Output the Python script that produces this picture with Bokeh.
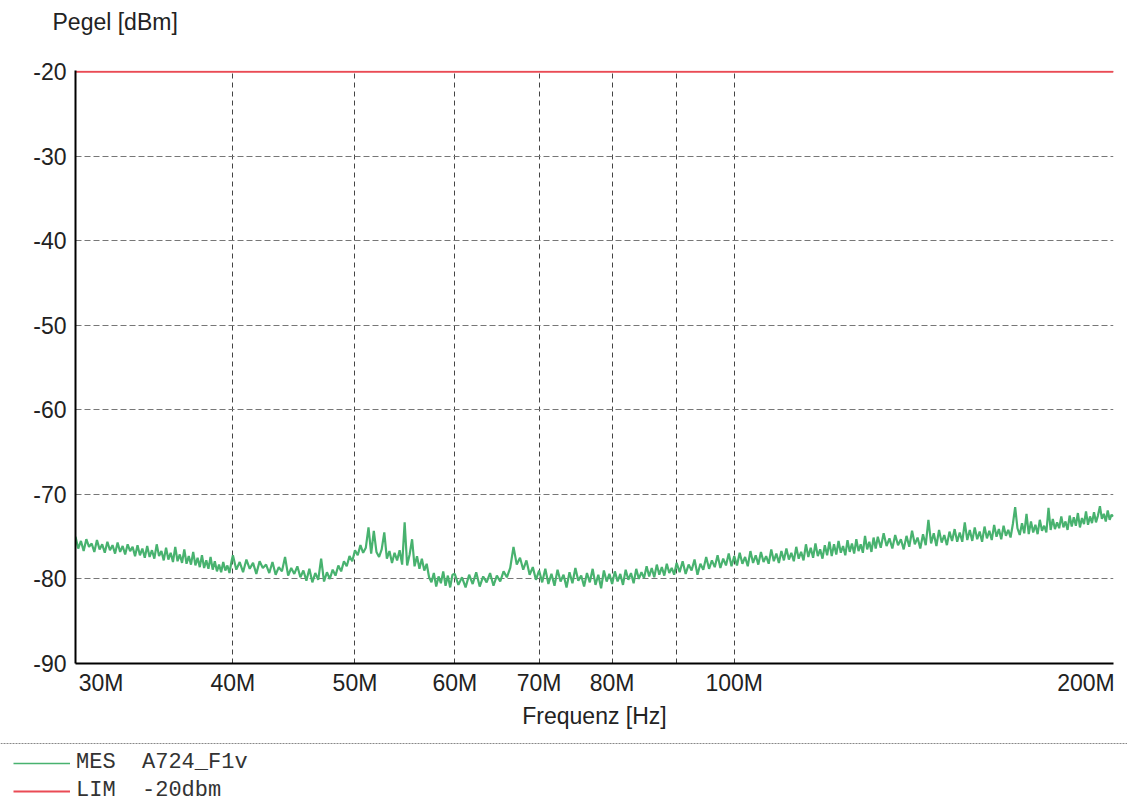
from bokeh.plotting import figure
from bokeh.models import Range1d, FixedTicker, Legend, LegendItem, Span, Title
from bokeh.layouts import column
from bokeh.embed import file_html
from bokeh.resources import INLINE

NB = "\u00a0"
FONT = "Liberation Sans"
GREEN = "#48b26f"
RED = "#ea4b55"

# ---- data -------------------------------------------------------------
x_ticks_mhz = [30, 40, 50, 60, 70, 80, 90, 100, 200]
x_tick_labels = [NB * 8 + "30M", "40M", "50M", "60M", "70M", "80M", "", "100M", "200M" + NB * 2]
y_ticks = [-90, -80, -70, -60, -50, -40, -30, -20]
y_tick_labels = ["-90", "-80", "-70", "-60", "-50", "-40", "-30", "-20"]

lim_freq_mhz = [30, 200]
lim_level = [-20, -20]

mes_freq_mhz = [
    30.0, 30.15, 30.3, 30.45, 30.6, 30.75, 30.9, 31.05, 31.2, 31.35,
    31.5, 31.65, 31.8, 31.95, 32.1, 32.25, 32.4, 32.55, 32.7, 32.85,
    33.0, 33.15, 33.3, 33.45, 33.6, 33.75, 33.9, 34.05, 34.2, 34.35,
    34.5, 34.65, 34.8, 34.95, 35.1, 35.25, 35.4, 35.55, 35.7, 35.85,
    36.0, 36.15, 36.3, 36.45, 36.6, 36.75, 36.9, 37.05, 37.2, 37.35,
    37.5, 37.65, 37.8, 37.95, 38.1, 38.25, 38.4, 38.55, 38.7, 38.85,
    39.0, 39.15, 39.3, 39.45, 39.6, 39.75, 39.9,
    40.0, 40.25, 40.5, 40.75, 41.0, 41.25, 41.5, 41.75, 42.0, 42.25,
    42.5, 42.75, 43.0, 43.25, 43.5, 43.75, 44.0, 44.25, 44.5, 44.75,
    45.0, 45.25, 45.5, 45.75, 46.0, 46.25, 46.5, 46.75, 47.0, 47.25,
    47.5, 47.75, 48.0, 48.25, 48.5, 48.75, 49.0, 49.25, 49.5, 49.75,
    50.0, 50.25, 50.5, 50.75, 51.0, 51.25, 51.5, 51.75, 52.0, 52.25,
    52.5, 52.75, 53.0, 53.25, 53.5, 53.75, 54.0, 54.25, 54.5, 54.75,
    55.0, 55.25, 55.5, 55.75, 56.0, 56.25, 56.5, 56.75, 57.0, 57.25,
    57.5, 57.75, 58.0, 58.25, 58.5, 58.75, 59.0, 59.25, 59.5, 59.75,
    60.0, 60.4, 60.8, 61.2, 61.6, 62.0, 62.4, 62.8, 63.2, 63.6,
    64.0, 64.4, 64.8, 65.2, 65.6, 66.0, 66.4, 66.8, 67.2, 67.6,
    68.0, 68.4, 68.8, 69.2, 69.6, 70.0, 70.4, 70.8, 71.2, 71.6,
    72.0, 72.4, 72.8, 73.2, 73.6, 74.0, 74.4, 74.8, 75.2, 75.6,
    76.0, 76.4, 76.8, 77.2, 77.6, 78.0, 78.4, 78.8, 79.2, 79.6,
    80.0, 80.4, 80.8, 81.2, 81.6, 82.0, 82.4, 82.8, 83.2, 83.6,
    84.0, 84.4, 84.8, 85.2, 85.6, 86.0, 86.4, 86.8, 87.2, 87.6,
    88.0, 88.4, 88.8, 89.2, 89.6,
    90.0, 90.5, 91.0, 91.5, 92.0, 92.5, 93.0, 93.5, 94.0, 94.5,
    95.0, 95.5, 96.0, 96.5, 97.0, 97.5, 98.0, 98.5, 99.0, 99.5,
    100.0, 100.5, 101.0, 101.5, 102.0, 102.5, 103.0, 103.5, 104.0, 104.5,
    105.0, 105.5, 106.0, 106.5, 107.0, 107.5, 108.0, 108.5, 109.0, 109.5,
    110.0, 110.5, 111.0, 111.5, 112.0, 112.5, 113.0, 113.5, 114.0, 114.5,
    115.0, 115.5, 116.0, 116.5, 117.0, 117.5, 118.0, 118.5, 119.0, 119.5,
    120.0, 120.5, 121.0, 121.5, 122.0, 122.5, 123.0, 123.5, 124.0, 124.5,
    125.0, 125.5, 126.0, 126.5, 127.0, 127.5, 128.0, 128.5, 129.0, 129.5,
    130.0, 130.7, 131.4, 132.1, 132.8, 133.5, 134.2, 134.9, 135.6, 136.3,
    137.0, 137.7, 138.4, 139.1, 139.8, 140.5, 141.2, 141.9, 142.6, 143.3,
    144.0, 144.7, 145.4, 146.1, 146.8, 147.5, 148.2, 148.9, 149.6, 150.3,
    151.0, 151.7, 152.4, 153.1, 153.8, 154.5, 155.2, 155.9, 156.6, 157.3,
    158.0, 158.7, 159.4, 160.1, 160.8, 161.5, 162.2, 162.9, 163.6, 164.3,
    165.0, 165.7, 166.4, 167.1, 167.8, 168.5, 169.2, 169.9, 170.6, 171.3,
    172.0, 172.7, 173.4, 174.1, 174.8, 175.5, 176.2, 176.9, 177.6, 178.3,
    179.0, 179.7, 180.4, 181.1, 181.8, 182.5, 183.2, 183.9, 184.6, 185.3,
    186.0, 186.7, 187.4, 188.1, 188.8, 189.5, 190.2, 190.9, 191.6, 192.3,
    193.0, 193.7, 194.4, 195.1, 195.8, 196.5, 197.2, 197.9, 198.6, 199.3,
    200.0,
]

mes_level = [
    -75.0, -76.4, -75.5, -76.7, -75.3, -76.2, -75.8, -76.8, -75.4, -76.5,
    -75.9, -76.9, -75.6, -76.6, -76.0, -77.0, -75.7, -76.8, -76.1, -77.1,
    -75.9, -76.7, -76.2, -77.3, -76.0, -77.2, -76.4, -77.5, -76.1, -77.4,
    -76.6, -77.6, -75.9, -77.3, -76.7, -77.8, -76.3, -77.7, -76.9, -78.0,
    -76.2, -77.9, -77.1, -78.1, -76.5, -78.2, -77.3, -78.3, -76.8, -78.4,
    -77.5, -78.6, -77.2, -78.7, -77.8, -78.8, -77.4, -78.9, -77.9, -79.1,
    -78.3, -79.2, -78.0, -79.0, -78.4, -79.3, -77.9,
    -77.2, -78.9, -78.0, -79.2, -77.7, -78.8, -78.1, -79.4, -77.9, -78.7,
    -78.3, -79.3, -78.0, -79.5, -78.6, -79.1, -77.4, -79.6, -78.7, -79.4,
    -78.5, -79.8, -79.0, -80.2, -78.8, -80.4, -79.3, -80.1, -77.6, -80.3,
    -79.2, -80.0, -78.9, -79.6, -78.4, -79.1, -77.9, -78.5, -77.3, -77.9,
    -76.6, -77.2, -76.0, -76.9, -76.3, -73.9, -77.0, -74.3, -76.8, -77.4,
    -76.5, -74.5, -77.6, -76.7, -78.1, -76.9, -77.8, -76.6, -78.3, -73.3,
    -78.4, -77.1, -75.3, -78.5, -77.3, -78.8, -77.6, -79.0, -78.2, -79.8,
    -80.4, -79.3, -80.9, -79.7, -80.5, -79.1, -80.8, -79.6, -81.0, -79.5,
    -79.4, -80.7, -79.8, -81.0, -79.5, -80.6, -79.2, -80.9, -79.7, -80.4,
    -79.3, -80.8, -79.6, -80.3, -79.1, -79.8, -78.7, -76.2, -78.3, -77.5,
    -78.9, -77.8, -79.5, -78.6, -80.1, -79.0, -80.4, -78.8, -80.6, -79.4,
    -80.8, -78.9, -80.3, -79.5, -81.0, -79.2, -80.5, -78.7, -80.2, -79.6,
    -80.9, -79.3, -80.4, -78.8, -80.7, -79.5, -81.1, -79.0, -80.3, -79.4,
    -80.6, -79.1, -80.3, -79.4, -80.7, -78.9, -80.1, -79.3, -80.5, -78.8,
    -80.0, -79.2, -79.9, -78.5, -79.7, -78.7, -79.8, -78.3, -79.5, -78.6,
    -79.6, -78.2, -79.3, -78.7, -79.5,
    -78.1, -79.2, -77.9, -79.4, -78.3, -79.0, -77.7, -79.5, -78.2, -78.9,
    -77.4, -78.8, -77.8, -78.6, -77.2, -78.7, -77.6, -78.4, -77.0, -78.5,
    -77.3, -78.4, -76.9, -78.2, -77.4, -78.5, -76.7, -78.1, -77.2, -78.3,
    -76.8, -78.0, -77.3, -78.2, -76.5, -77.9, -77.0, -78.1, -76.7, -77.8,
    -76.4, -77.7, -76.9, -77.9, -76.2, -77.6, -76.8, -77.8, -75.9, -77.4,
    -76.3, -77.5, -75.8, -77.3, -76.5, -77.6, -76.0, -77.2, -75.6, -77.3,
    -75.9, -77.1, -75.5, -76.9, -76.1, -77.2, -75.4, -76.8, -75.8, -77.0,
    -75.3, -76.7, -75.9, -76.9, -74.9, -76.5, -75.6, -76.8, -75.1, -76.4,
    -75.0, -76.3, -74.6, -76.1, -75.2, -76.4, -74.8, -76.0, -75.3, -76.5,
    -74.9, -76.2, -74.3, -75.9, -75.1, -76.4, -74.7, -76.0, -73.0, -75.8,
    -74.6, -76.1, -74.2, -75.7, -74.8, -76.0, -74.4, -75.5, -74.1, -75.6,
    -74.5, -75.6, -73.3, -75.4, -74.2, -75.5, -73.9, -75.3, -74.4, -75.6,
    -73.8, -75.2, -74.3, -75.4, -73.6, -75.0, -74.1, -75.3, -73.7, -74.9,
    -74.2, -75.1, -73.5, -71.5, -74.0, -74.8, -73.4, -74.6, -72.3, -74.7,
    -73.2, -74.5, -73.6, -74.7, -73.0, -74.3, -73.7, -74.5, -71.6, -74.2,
    -72.9, -74.1, -73.3, -74.0, -72.6, -73.9, -73.2, -74.2, -72.5, -73.8,
    -72.7, -73.7, -72.2, -73.9, -72.8, -73.5, -72.0, -73.6, -72.6, -73.4,
    -72.1, -73.3, -72.5, -71.4, -72.9, -72.3, -73.2, -71.9, -73.0, -72.4,
    -72.6,
]

y_title = "Pegel [dBm]"
legend_labels = ["MES" + NB * 2 + "A724_F1v", "LIM" + NB * 2 + "-20dbm"]

# ---- main chart -------------------------------------------------------
mes_freq_hz = [f * 1e6 for f in mes_freq_mhz]
lim_freq_hz = [f * 1e6 for f in lim_freq_mhz]
x_ticks_hz = [int(f * 1e6) for f in x_ticks_mhz]

p = figure(
    width=1127, height=742,
    x_axis_type="log",
    x_range=Range1d(30e6, 200e6), y_range=Range1d(-90, -19.85),
    output_backend="svg", toolbar_location=None,
    min_border_left=75, min_border_right=14, min_border_top=70, min_border_bottom=79,
    background_fill_color="white", border_fill_color="white",
    outline_line_color=None,
)
# spacer between frame and the title text (title goes outermost)
p.add_layout(Title(text=NB, text_font_size="1px", standoff=33), "above")
p.add_layout(Title(
    text=y_title, text_font=FONT, text_font_size="23px", text_font_style="normal",
    text_color="#222222", align="left", offset=-23, standoff=0,
), "above")

xa = p.xaxis[0]
xa.ticker = FixedTicker(ticks=x_ticks_hz)
xa.major_label_overrides = {t: lab for t, lab in zip(x_ticks_hz, x_tick_labels)}
ya = p.yaxis[0]
ya.ticker = FixedTicker(ticks=y_ticks)
ya.major_label_overrides = {t: lab for t, lab in zip(y_ticks, y_tick_labels)}

for ax in (xa, ya):
    ax.axis_line_color = "black"
    ax.axis_line_width = 2
    ax.major_tick_out = 0
    ax.major_tick_in = 0
    ax.minor_tick_out = 0
    ax.minor_tick_in = 0
    ax.major_label_text_font = FONT
    ax.major_label_text_font_size = "23px"
    ax.major_label_text_color = "#222222"
xa.major_label_standoff = 6
ya.major_label_standoff = 9
xa.axis_label = "Frequenz [Hz]"
xa.axis_label_text_font = FONT
xa.axis_label_text_font_size = "23px"
xa.axis_label_text_font_style = "normal"
xa.axis_label_text_color = "#222222"
xa.axis_label_standoff = 4

p.xgrid.grid_line_color = "#444444"
p.xgrid.grid_line_dash = "5 4"
p.xgrid.grid_line_width = 1
p.ygrid.grid_line_color = "#777777"
p.ygrid.grid_line_dash = "6 3"
p.ygrid.grid_line_width = 1

p.line(x=mes_freq_hz, y=mes_level, line_color=GREEN, line_width=2.2)
p.line(x=lim_freq_hz, y=lim_level, line_color=RED, line_width=2)

# ---- legend strip -----------------------------------------------------
q = figure(
    width=1127, height=61,
    x_range=Range1d(0, 1), y_range=Range1d(0, 61),
    output_backend="svg", toolbar_location=None,
    min_border=0, x_axis_location=None, y_axis_location=None,
    outline_line_color=None, background_fill_color="white", border_fill_color="white",
)
for fig in (p, q):
    try:
        fig.frame_align = False
    except AttributeError:
        pass
q.grid.visible = False
q.add_layout(Span(location=60, dimension="width", line_color="#888888",
                  line_width=1, line_dash="2 1"))
# legend swatches (these series lie outside the strip's own ranges)
g_proxy = q.line(x=mes_freq_hz, y=mes_level, line_color=GREEN, line_width=1.3)
r_proxy = q.line(x=lim_freq_hz, y=lim_level, line_color=RED, line_width=2)
legend = Legend(
    items=[LegendItem(label=legend_labels[0], renderers=[g_proxy]),
           LegendItem(label=legend_labels[1], renderers=[r_proxy])],
    location=(13, 0), padding=0, margin=0, spacing=3,
    glyph_width=57, glyph_height=20, label_height=20, label_standoff=6,
    label_text_font="Liberation Mono", label_text_font_size="22px",
    label_text_color="#333333",
    background_fill_alpha=0, border_line_color=None,
)
q.add_layout(legend)

layout = column(p, q, spacing=0)
open("out.html", "w").write(file_html(layout, INLINE))
